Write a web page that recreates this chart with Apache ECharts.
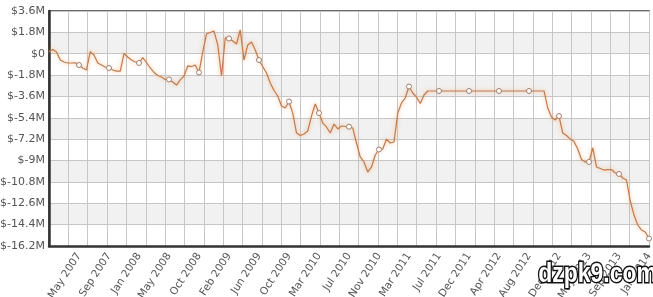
<!DOCTYPE html>
<html>
<head>
<meta charset="utf-8">
<script src="https://cdn.jsdelivr.net/npm/echarts@6/dist/echarts.min.js"></script>
<style>
html,body{margin:0;padding:0;background:#fff;}
#c{width:653px;height:297px;}
</style>
</head>
<body>
<div id="c"></div>
<script>
// X tick labels (one every 8 samples)
const tickLabels = ['May 2007','Sep 2007','Jan 2008','May 2008','Oct 2008','Feb 2009','Jun 2009','Oct 2009','Mar 2010','Jul 2010','Nov 2010','Mar 2011','Jul 2011','Dec 2011','Apr 2012','Aug 2012','Dec 2012','May 2013','Sep 2013','Jan 2014'];
const samplesPerLabel = 8;
// Y axis range (millions of $)
const yMin = -16.2, yMax = 3.6, yStep = 1.8;
// Series values in $M, evenly sampled in time
const values = [
  0.17, 0.36, 0.15,-0.53,-0.70,-0.78,-0.78,-0.76,-0.95,-1.20,
 -1.37, 0.17,-0.11,-0.78,-0.95,-1.12,-1.20,-1.37,-1.46,-1.46,
  0.02,-0.28,-0.53,-0.70,-0.78,-0.32,-0.74,-1.20,-1.58,-1.83,
 -1.96,-2.17,-2.17,-2.38,-2.64,-2.21,-1.88,-1.03,-1.08,-0.95,
 -1.58, 0.15, 1.66, 1.79, 1.91, 0.74,-1.88, 1.33, 1.28, 1.07,
  0.82, 2.00,-0.53, 0.74, 0.99, 0.31,-0.53,-1.08,-1.62,-2.47,
 -3.10,-3.56,-4.40,-4.57,-4.03,-5.00,-6.68,-6.89,-6.76,-6.51,
 -5.25,-4.24,-5.00,-5.84,-6.17,-6.68,-5.92,-6.34,-6.09,-6.13,
 -6.15,-6.26,-7.52,-8.70,-9.12,-9.97,-9.54,-8.53,-8.07,-8.03,
 -7.19,-7.52,-7.44,-5.00,-4.15,-3.73,-2.76,-3.31,-3.65,-4.19,
 -3.48,-3.14,-3.14,-3.14,-3.14,-3.14,-3.14,-3.14,-3.14,-3.14,
 -3.14,-3.14,-3.14,-3.14,-3.14,-3.14,-3.14,-3.14,-3.14,-3.14,
 -3.14,-3.14,-3.14,-3.14,-3.14,-3.14,-3.14,-3.14,-3.14,-3.14,
 -3.14,-3.14,-3.14,-4.57,-5.33,-5.58,-5.25,-6.68,-6.89,-7.19,
 -7.40,-8.03,-8.91,-9.12,-9.12,-7.94,-9.54,-9.67,-9.80,-9.76,
 -9.76,-10.05,-10.13,-10.47,-10.64,-12.41,-13.59,-14.43,-14.85,-15.02,
 -15.57
];
const gridColumns = 31;

const chart = echarts.init(document.getElementById('c'), null, {renderer:'canvas'});
const font = 'DejaVu Sans, Verdana, sans-serif';
const option = {
  animation: false,
  backgroundColor: '#ffffff',
  grid: {left:49, right:4, top:11, bottom:51, containLabel:false, outerBoundsMode:'none',
    show:true, borderColor:'#3a3a3a', borderWidth:1.5, backgroundColor:'transparent'},
  xAxis: [
    {type:'value', min:0, max:values.length-1, show:false},
    {type:'value', position:'bottom', min:0, max:tickLabels.length, interval:1,
     axisLine:{show:true, onZero:false, lineStyle:{color:'#333', width:2.5}},
     axisTick:{show:false}, splitLine:{show:false},
     axisLabel:{show:true, rotate:57, margin:8, color:'#555', fontSize:10.5, fontFamily:font, showMinLabel:true, showMaxLabel:true,
       formatter:(v)=>{ const k=Math.round(v); return k>0 ? tickLabels[k-1] : ''; }}},
    {type:'value', position:'bottom', min:0, max:gridColumns, interval:1,
     axisLine:{show:false}, axisTick:{show:false}, axisLabel:{show:false},
     splitLine:{show:true, lineStyle:{color:'#c6c6c6', width:1}}}
  ],
  yAxis: {type:'value', min:yMin, max:yMax, interval:yStep,
    axisLine:{show:true, lineStyle:{color:'#333', width:2.5}},
    axisTick:{show:false},
    splitLine:{show:true, lineStyle:{color:'#c6c6c6', width:1}},
    splitArea:{show:true, areaStyle:{color:['#ffffff','#f1f1f1']}},
    axisLabel:{color:'#555', fontSize:11, fontFamily:font, margin:4,
      formatter:(v)=>{ const r=Math.round(v*10)/10; return r===0 ? '$0' : '$'+r+'M'; }}
  },
  series: [{
    type:'line', xAxisIndex:0,
    data: values.map((v,i)=>[i,v]),
    showSymbol:true, showAllSymbol:true, symbol:'circle',
    symbolSize:(val, p)=> (p.dataIndex>0 && p.dataIndex % samplesPerLabel===0) ? 5 : 0,
    itemStyle:{color:'#ffffff', borderColor:'#a08070', borderWidth:1},
    lineStyle:{color:'#c07a4c', width:1.2, shadowColor:'rgba(245,150,80,0.75)', shadowBlur:4},
    emphasis:{disabled:true}, z:3
  }],
  graphic: [{
    type:'text', left:537, top:260, z:100, scaleX:0.85,
    style:{text:'dzpk9.com', font:'bold 27px "Liberation Sans", Arial, sans-serif',
      fill:'#ffffff', stroke:'#111111', lineWidth:3}
  }]
};
chart.setOption(option);
</script>
</body>
</html>
